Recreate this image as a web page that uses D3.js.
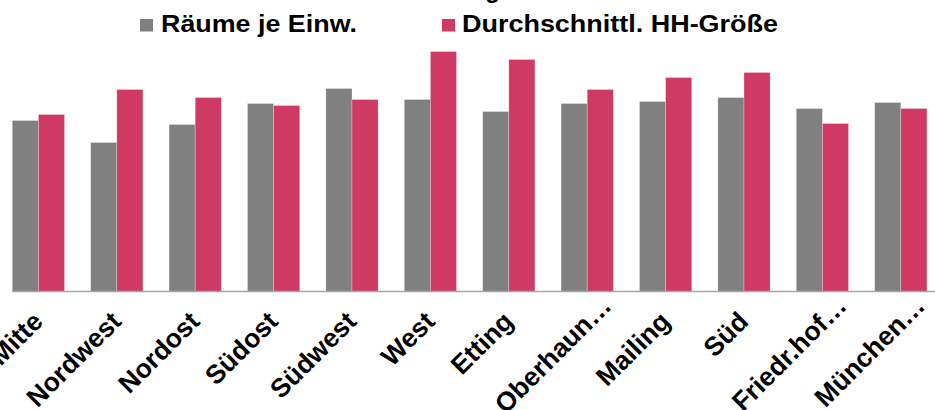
<!DOCTYPE html>
<html>
<head>
<meta charset="utf-8">
<script src="https://cdn.jsdelivr.net/npm/d3@7"></script>
<style>
  html, body { margin: 0; padding: 0; background: #fff; }
  svg { display: block; }
  text { font-family: "Liberation Sans", Arial, sans-serif; font-weight: bold; fill: #000; }
</style>
</head>
<body>
<svg id="chart" width="935" height="410"></svg>
<script>
const categories = ["Mitte", "Nordwest", "Nordost", "Südost", "Südwest", "West", "Etting", "Oberhaun…", "Mailing", "Süd", "Friedr.hof…", "München…"];
const seriesNames = ["Räume je Einw.", "Durchschnittl. HH-Größe"];
const raeumeJeEinw = [1.71, 1.49, 1.67, 1.88, 2.03, 1.92, 1.80, 1.88, 1.90, 1.94, 1.83, 1.89];
const hhGroesse = [1.77, 2.02, 1.94, 1.86, 1.92, 2.40, 2.32, 2.02, 2.14, 2.19, 1.68, 1.83];
const titleText = "Ausstattung";
const colors = ["#808080", "#CE3A64"];

const svg = d3.select("#chart");
const baseY = 291.5;

const x0 = d3.scaleBand().domain(categories).range([-0.8, 940]).paddingInner(1/3).paddingOuter(1/6);
const x1 = d3.scaleBand().domain([0, 1]).range([0, x0.bandwidth()]);
const y = d3.scaleLinear().domain([0, 2.4]).range([baseY, 51.5]);

const rows = categories.map((c, i) => ({ cat: c, vals: [raeumeJeEinw[i], hhGroesse[i]] }));

// partially visible title (cut at top edge, only a descender shows)
svg.append("text").attr("x", 500).attr("y", -2.5).attr("text-anchor", "end")
  .style("font-size", "24px").text(titleText);

// bars
const g = svg.append("g");
g.selectAll("g.cat").data(rows).join("g").attr("class", "cat")
  .attr("transform", d => `translate(${x0(d.cat)},0)`)
  .selectAll("rect").data(d => d.vals.map((v, k) => ({ v, k }))).join("rect")
  .attr("x", d => x1(d.k))
  .attr("y", d => y(d.v))
  .attr("width", x1.bandwidth())
  .attr("height", d => y(0) - y(d.v))
  .attr("fill", d => colors[d.k])
  .attr("stroke", "rgba(255,255,255,0.35)")
  .attr("stroke-width", 0.8);

// axis line
svg.append("line").attr("x1", 12).attr("x2", 935).attr("y1", baseY).attr("y2", baseY)
  .attr("stroke", "#A6A6A6").attr("stroke-width", 1.6);

// x labels
const xAxis = d3.axisBottom(x0).tickSize(0).tickPadding(0);
const ax = svg.append("g").attr("transform", `translate(0,${baseY})`).call(xAxis);
ax.select(".domain").remove();
ax.selectAll(".tick text")
  .attr("text-anchor", "end")
  .attr("dy", null)
  .attr("x", d => d.endsWith("…") ? 25 : 0)
  .attr("y", d => d.endsWith("…") ? 3 : 0)
  .attr("transform", "translate(6,31.5) rotate(-45)")
  .style("font-size", "26.5px")
  .style("font-family", "'Liberation Sans', Arial, sans-serif")
  .style("font-weight", "bold")
  .attr("fill", "#000");

// legend
const legend = [
  { sx: 140, tx: 161, len: 196 },
  { sx: 442, tx: 462, len: 316 }
];
legend.forEach((l, k) => {
  svg.append("rect").attr("x", l.sx).attr("y", 19).attr("width", 13).attr("height", 12.5).attr("fill", colors[k]);
  svg.append("text").attr("x", l.tx).attr("y", 31.7)
    .attr("textLength", l.len).attr("lengthAdjust", "spacingAndGlyphs")
    .style("font-size", "23.3px").text(seriesNames[k]);
});
</script>
</body>
</html>
